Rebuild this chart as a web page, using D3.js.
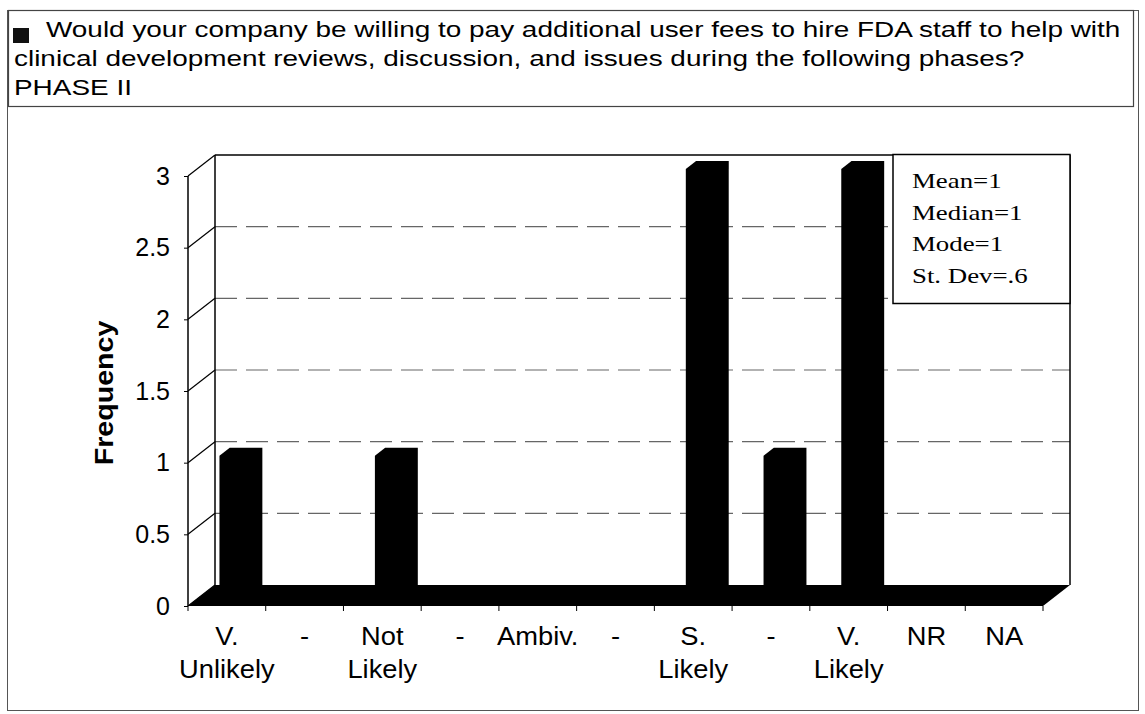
<!DOCTYPE html>
<html>
<head>
<meta charset="utf-8">
<script src="https://cdn.jsdelivr.net/npm/d3@7"></script>
<style>
  body { margin: 0; background: #fff; }
  svg { display: block; }
</style>
</head>
<body>
<div id="chart"></div>
<script>
// chart data
var categories = ["V.|Unlikely", "-", "Not|Likely", "-", "Ambiv.", "-", "S.|Likely", "-", "V.|Likely", "NR", "NA"];
var frequency = [1, 0, 1, 0, 0, 0, 3, 1, 3, 0, 0];
var yTicks = [0, 0.5, 1, 1.5, 2, 2.5, 3];
var titleLines = [
  "Would your company be willing to pay additional user fees to hire FDA staff to help with",
  "clinical development reviews, discussion, and issues during the following phases?",
  "PHASE II"
];
var statLines = ["Mean=1", "Median=1", "Mode=1", "St. Dev=.6"];

var width = 1145, height = 714;
// depth offset of the 3d box
var depthX = 27, depthY = -21;
var front0 = 0.33, front1 = 0.71;
var sans = "Arial, 'Liberation Sans', sans-serif";

var svg = d3.select("#chart").append("svg")
  .attr("width", width)
  .attr("height", height);

// outer frame
svg.append("rect")
  .attr("x", 7.5).attr("y", 10.5)
  .attr("width", 1131).attr("height", 700)
  .style("fill", "none").style("stroke", "#555").style("stroke-width", 1);

// title box
svg.append("rect")
  .attr("x", 8.5).attr("y", 10.5)
  .attr("width", 1125).attr("height", 96)
  .style("fill", "none").style("stroke", "#444").style("stroke-width", 1.2);

svg.append("rect")
  .attr("x", 13).attr("y", 28)
  .attr("width", 16).attr("height", 15)
  .style("fill", "#111");

// the scan is stretched sideways, so text gets a wider scale
svg.selectAll(".title")
  .data(titleLines)
  .enter().append("text")
  .attr("class", "title")
  .attr("transform", function(d, i) {
    return "translate(" + (i == 0 ? 46 : 14) + "," + (37 + i * 29) + ") scale(1.27,1)";
  })
  .style("font-family", sans)
  .style("font-size", "22px")
  .style("fill", "#000")
  .text(function(d) { return d; });

// scales
var x = d3.scaleBand()
  .domain(d3.range(categories.length))
  .range([188, 1043])
  .padding(0);

var y = d3.scaleLinear()
  .domain([0, 3])
  .range([606, 176]);

var wallLeft = 188 + depthX, wallRight = 1043 + depthX;

// back wall gridlines
svg.selectAll(".grid")
  .data(yTicks.filter(function(d) { return d > 0 && d < 3; }))
  .enter().append("line")
  .attr("class", "grid")
  .attr("x1", wallLeft).attr("x2", wallRight)
  .attr("y1", function(d) { return y(d) + depthY; })
  .attr("y2", function(d) { return y(d) + depthY; })
  .style("stroke", "#666")
  .style("stroke-width", 1.2)
  .style("stroke-dasharray", "22,9");

// left wall diagonals
svg.selectAll(".diag")
  .data(yTicks)
  .enter().append("line")
  .attr("class", "diag")
  .attr("x1", 188).attr("x2", wallLeft)
  .attr("y1", function(d) { return y(d); })
  .attr("y2", function(d) { return y(d) + depthY; })
  .style("stroke", "#000")
  .style("stroke-width", 1.2);

// wall edges
var walls = svg.append("g").style("stroke", "#000").style("stroke-width", 1.5).style("fill", "none");
walls.append("line").attr("x1", 188).attr("x2", 188).attr("y1", y(3)).attr("y2", y(0));
walls.append("line").attr("x1", wallLeft).attr("x2", wallLeft).attr("y1", y(3) + depthY).attr("y2", y(0) + depthY);
walls.append("line").attr("x1", wallLeft).attr("x2", wallRight).attr("y1", y(3) + depthY).attr("y2", y(3) + depthY);
walls.append("line").attr("x1", wallRight).attr("x2", wallRight).attr("y1", y(3) + depthY).attr("y2", y(0) + depthY);

// floor
svg.append("polygon")
  .attr("points", [
    [188, y(0)], [wallLeft, y(0) + depthY], [wallRight, y(0) + depthY], [1043, y(0)]
  ].join(" "))
  .style("fill", "#000");

// bars (front face, top and side all black, so draw the outline)
var barW = x.bandwidth() * 0.42;
function barPoints(v, i) {
  var cx = x(i) + x.bandwidth() / 2;
  var x0 = cx - barW / 2, x1 = cx + barW / 2;
  var ax = depthX * front0, ay = depthY * front0;
  var bx = depthX * front1, by = depthY * front1;
  return [
    [x0 + ax, y(0) + ay],
    [x0 + ax, y(v) + ay],
    [x0 + bx, y(v) + by],
    [x1 + bx, y(v) + by],
    [x1 + bx, y(0) + by],
    [x1 + ax, y(0) + ay]
  ].join(" ");
}

svg.selectAll(".bar")
  .data(frequency.map(function(v, i) { return {v: v, i: i}; }).filter(function(d) { return d.v > 0; }))
  .enter().append("polygon")
  .attr("class", "bar")
  .attr("points", function(d) { return barPoints(d.v, d.i); })
  .style("fill", "#000");

// stats box
svg.append("rect")
  .attr("x", 893).attr("y", 154.5)
  .attr("width", 177).attr("height", 149)
  .style("fill", "#fff").style("stroke", "#000").style("stroke-width", 1.5);

svg.selectAll(".stat")
  .data(statLines)
  .enter().append("text")
  .attr("class", "stat")
  .attr("transform", function(d, i) { return "translate(912," + (188 + i * 31.5) + ") scale(1.22,1)"; })
  .style("font-family", "'Times New Roman', 'Liberation Serif', serif")
  .style("font-size", "22px")
  .text(function(d) { return d; });

// y axis
var yAxis = d3.axisLeft(y)
  .tickValues(yTicks)
  .tickSize(4)
  .tickPadding(14)
  .tickFormat(function(d) { return d + ""; });

var gy = svg.append("g")
  .attr("transform", "translate(188,0)")
  .call(yAxis);
gy.select(".domain").remove();
gy.selectAll("text")
  .style("font-family", sans)
  .style("font-size", "25px")
  .style("fill", "#000");

svg.append("text")
  .attr("transform", "translate(113,393) rotate(-90) scale(1.1,1)")
  .attr("text-anchor", "middle")
  .style("font-family", sans)
  .style("font-size", "26px")
  .style("font-weight", "bold")
  .text("Frequency");

// x axis ticks at category boundaries
var bounds = d3.range(categories.length + 1).map(function(i) {
  return i < categories.length ? x(i) : x.range()[1];
});
svg.selectAll(".xtick")
  .data(bounds)
  .enter().append("line")
  .attr("class", "xtick")
  .attr("x1", function(d) { return d; })
  .attr("x2", function(d) { return d; })
  .attr("y1", y(0)).attr("y2", y(0) + 5)
  .style("stroke", "#000").style("stroke-width", 1);

var xl = svg.selectAll(".xlabel")
  .data(categories)
  .enter().append("text")
  .attr("class", "xlabel")
  .attr("text-anchor", "middle")
  .attr("transform", function(d, i) { return "translate(" + (x(i) + x.bandwidth() / 2) + ",0) scale(1.05,1)"; })
  .style("font-family", sans)
  .style("font-size", "26px");

xl.each(function(d) {
  var t = d3.select(this);
  d.split("|").forEach(function(p, j) {
    t.append("tspan")
      .attr("x", 0)
      .attr("y", 645 + j * 33)
      .text(p);
  });
});
</script>
</body>
</html>
